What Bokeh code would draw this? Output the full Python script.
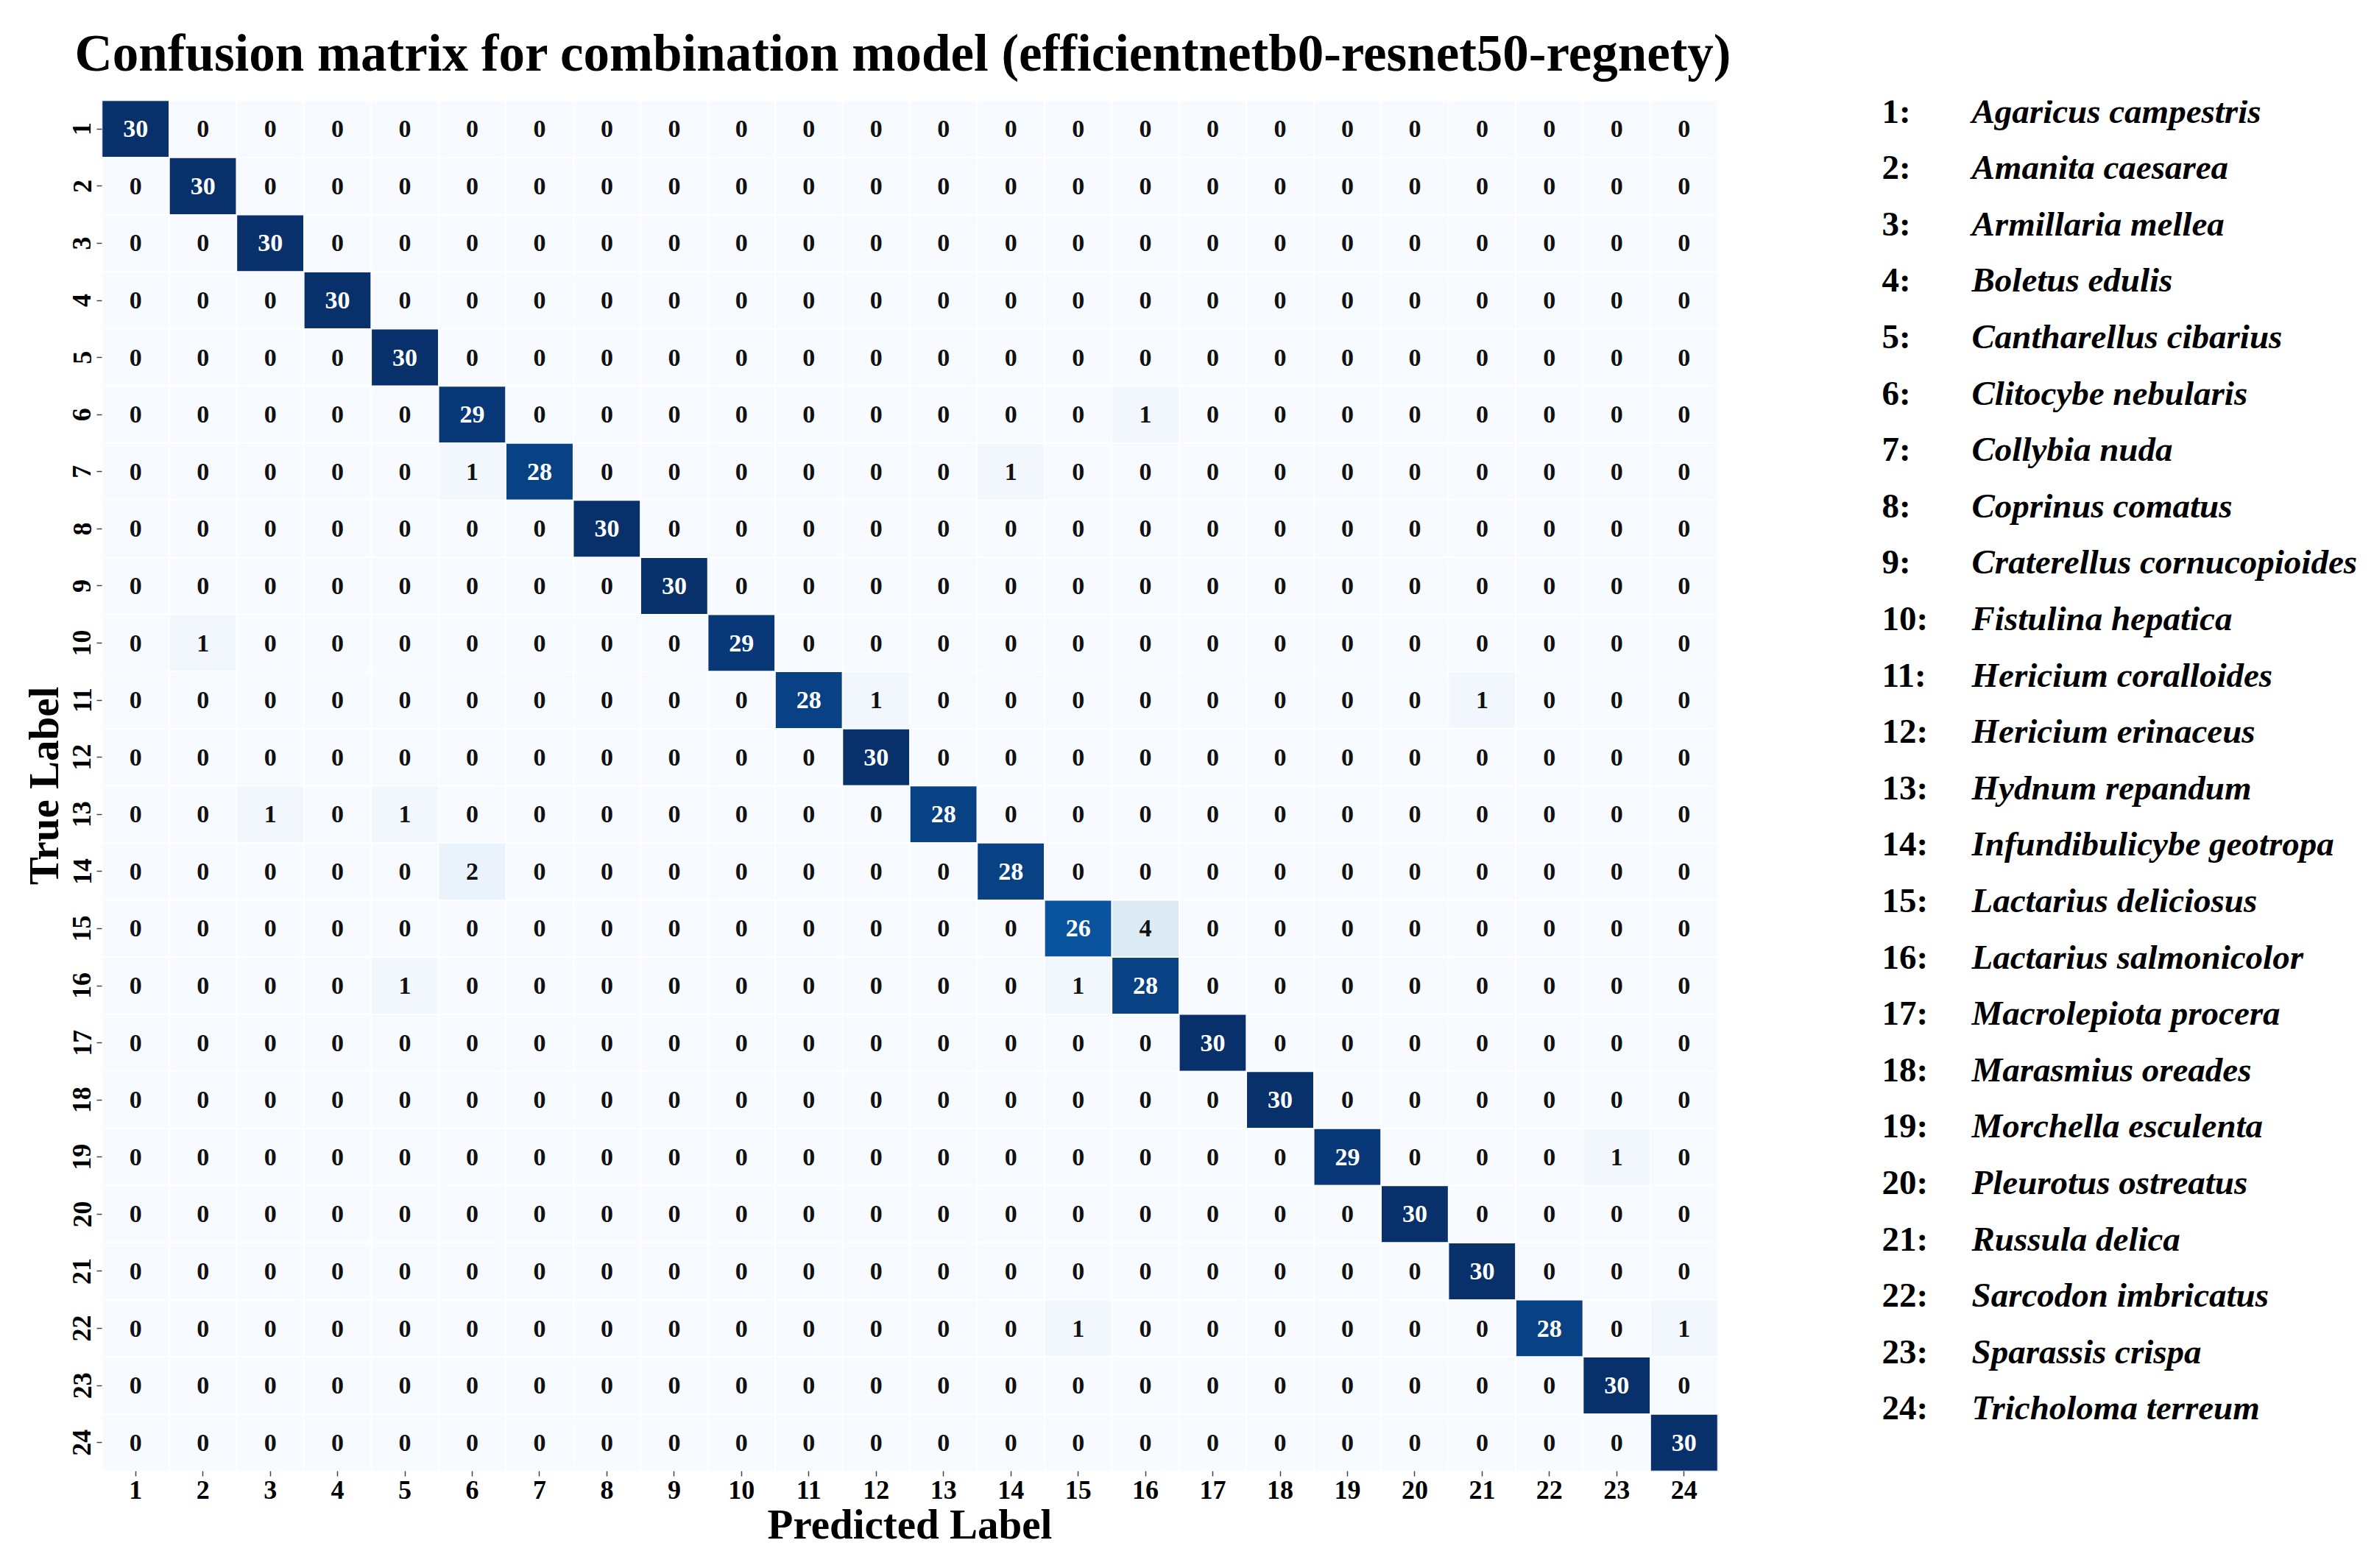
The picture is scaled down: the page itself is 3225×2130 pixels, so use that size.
import numpy as np
from bokeh.plotting import figure
from bokeh.models import ColumnDataSource, LinearColorMapper, Range1d
from bokeh.transform import transform
from bokeh.layouts import row
from bokeh.embed import file_html
from bokeh.resources import INLINE
from bokeh.core.properties import value

# ---------------- data ----------------
class_ids = [str(i) for i in range(1, 25)]
class_names = [
    "Agaricus campestris", "Amanita caesarea", "Armillaria mellea", "Boletus edulis",
    "Cantharellus cibarius", "Clitocybe nebularis", "Collybia nuda", "Coprinus comatus",
    "Craterellus cornucopioides", "Fistulina hepatica", "Hericium coralloides",
    "Hericium erinaceus", "Hydnum repandum", "Infundibulicybe geotropa",
    "Lactarius deliciosus", "Lactarius salmonicolor", "Macrolepiota procera",
    "Marasmius oreades", "Morchella esculenta", "Pleurotus ostreatus", "Russula delica",
    "Sarcodon imbricatus", "Sparassis crispa", "Tricholoma terreum",
]
# rows = true label, columns = predicted label
true_01 = [30,0,0,0,0,0,0,0,0,0,0,0,0,0,0,0,0,0,0,0,0,0,0,0]
true_02 = [0,30,0,0,0,0,0,0,0,0,0,0,0,0,0,0,0,0,0,0,0,0,0,0]
true_03 = [0,0,30,0,0,0,0,0,0,0,0,0,0,0,0,0,0,0,0,0,0,0,0,0]
true_04 = [0,0,0,30,0,0,0,0,0,0,0,0,0,0,0,0,0,0,0,0,0,0,0,0]
true_05 = [0,0,0,0,30,0,0,0,0,0,0,0,0,0,0,0,0,0,0,0,0,0,0,0]
true_06 = [0,0,0,0,0,29,0,0,0,0,0,0,0,0,0,1,0,0,0,0,0,0,0,0]
true_07 = [0,0,0,0,0,1,28,0,0,0,0,0,0,1,0,0,0,0,0,0,0,0,0,0]
true_08 = [0,0,0,0,0,0,0,30,0,0,0,0,0,0,0,0,0,0,0,0,0,0,0,0]
true_09 = [0,0,0,0,0,0,0,0,30,0,0,0,0,0,0,0,0,0,0,0,0,0,0,0]
true_10 = [0,1,0,0,0,0,0,0,0,29,0,0,0,0,0,0,0,0,0,0,0,0,0,0]
true_11 = [0,0,0,0,0,0,0,0,0,0,28,1,0,0,0,0,0,0,0,0,1,0,0,0]
true_12 = [0,0,0,0,0,0,0,0,0,0,0,30,0,0,0,0,0,0,0,0,0,0,0,0]
true_13 = [0,0,1,0,1,0,0,0,0,0,0,0,28,0,0,0,0,0,0,0,0,0,0,0]
true_14 = [0,0,0,0,0,2,0,0,0,0,0,0,0,28,0,0,0,0,0,0,0,0,0,0]
true_15 = [0,0,0,0,0,0,0,0,0,0,0,0,0,0,26,4,0,0,0,0,0,0,0,0]
true_16 = [0,0,0,0,1,0,0,0,0,0,0,0,0,0,1,28,0,0,0,0,0,0,0,0]
true_17 = [0,0,0,0,0,0,0,0,0,0,0,0,0,0,0,0,30,0,0,0,0,0,0,0]
true_18 = [0,0,0,0,0,0,0,0,0,0,0,0,0,0,0,0,0,30,0,0,0,0,0,0]
true_19 = [0,0,0,0,0,0,0,0,0,0,0,0,0,0,0,0,0,0,29,0,0,0,1,0]
true_20 = [0,0,0,0,0,0,0,0,0,0,0,0,0,0,0,0,0,0,0,30,0,0,0,0]
true_21 = [0,0,0,0,0,0,0,0,0,0,0,0,0,0,0,0,0,0,0,0,30,0,0,0]
true_22 = [0,0,0,0,0,0,0,0,0,0,0,0,0,0,1,0,0,0,0,0,0,28,0,1]
true_23 = [0,0,0,0,0,0,0,0,0,0,0,0,0,0,0,0,0,0,0,0,0,0,30,0]
true_24 = [0,0,0,0,0,0,0,0,0,0,0,0,0,0,0,0,0,0,0,0,0,0,0,30]
confusion = [true_01, true_02, true_03, true_04, true_05, true_06, true_07, true_08,
             true_09, true_10, true_11, true_12, true_13, true_14, true_15, true_16,
             true_17, true_18, true_19, true_20, true_21, true_22, true_23, true_24]

title_text = "Confusion matrix for combination model  (efficientnetb0-resnet50-regnety)"

# ---------------- colour map (matplotlib "Blues") ----------------
BLUES9 = ["#f7fbff", "#deebf7", "#c6dbef", "#9ecae1", "#6baed6",
          "#4292c6", "#2171b5", "#08519c", "#08306b"]
rgb = np.array([[int(c[i:i + 2], 16) for i in (1, 3, 5)] for c in BLUES9], dtype=float)
pos = np.linspace(0, 1, len(BLUES9))
t = np.linspace(0, 1, 256)
pal = ["#%02x%02x%02x" % tuple(int(round(np.interp(tt, pos, rgb[:, k]))) for k in range(3)) for tt in t]
mapper = LinearColorMapper(palette=pal, low=0, high=30)

# ---------------- source ----------------
xs, ys, vals, txt, tcol = [], [], [], [], []
for i, r in enumerate(confusion):
    for j, v in enumerate(r):
        xs.append(class_ids[j]); ys.append(class_ids[i]); vals.append(v)
        txt.append(str(v)); tcol.append("white" if v > 15 else "#111111")
src = ColumnDataSource(dict(pred=xs, true=ys, value=vals, label=txt, tcolor=tcol))

FONT = "Liberation Serif"

p = figure(width=2400, height=2116, x_range=class_ids, y_range=list(reversed(class_ids)),
           output_backend="svg", toolbar_location=None,
           min_border_left=138, min_border_right=67, min_border_top=136, min_border_bottom=118)
p.rect(x="pred", y="true", width=1, height=1, source=src,
       fill_color=transform("value", mapper), line_color="white", line_width=1.5)
p.text(x="pred", y="true", text="label", source=src, text_color="tcolor",
       text_font=value(FONT), text_font_style="bold", text_font_size="34px",
       text_align="center", text_baseline="middle")

p.title.text = title_text
p.title.align = "center"
p.title.text_font = FONT
p.title.text_font_style = "bold"
p.title.text_font_size = "71px"
p.title.text_color = "black"
p.title.standoff = 52

for ax in (p.xaxis[0], p.yaxis[0]):
    ax.axis_line_color = None
    ax.major_tick_in = 0
    ax.major_tick_out = 7
    ax.major_tick_line_color = "#444444"
    ax.major_tick_line_width = 1.5
    ax.major_label_text_font = FONT
    ax.major_label_text_font_style = "bold"
    ax.major_label_text_font_size = "36px"
    ax.major_label_text_color = "black"
    ax.axis_label_text_font = FONT
    ax.axis_label_text_font_style = "bold"
    ax.axis_label_text_font_size = "57px"
    ax.axis_label_text_color = "black"
p.xaxis.axis_label = "Predicted Label"
p.yaxis.axis_label = "True Label"
p.xaxis.major_label_standoff = 6
p.xaxis.axis_label_standoff = 0
p.yaxis.major_label_orientation = "vertical"
p.yaxis.major_label_standoff = 8
p.yaxis.axis_label_standoff = 6
p.grid.grid_line_color = None
p.outline_line_color = None

# ---------------- species key on the right ----------------
# the key plot's frame is aligned with the heatmap frame by the row layout
key_idx = list(range(1, 25))
lp = figure(width=805, height=2116, x_range=Range1d(0, 805), y_range=Range1d(25.125, 0.817),
            output_backend="svg", toolbar_location=None, min_border=0)
lp.axis.visible = False
lp.grid.grid_line_color = None
lp.outline_line_color = None
key_src = ColumnDataSource(dict(y=key_idx, num=[f"{i}:" for i in class_ids], name=class_names))
lp.text(x=156, y="y", text="num", source=key_src, text_font=value(FONT), text_font_style="bold",
        text_font_size="47px", text_baseline="middle", text_align="left", text_color="black")
lp.text(x=278, y="y", text="name", source=key_src, text_font=value(FONT), text_font_style="bold italic",
        text_font_size="47px", text_baseline="middle", text_align="left", text_color="black")

layout = row(p, lp)
open("out.html", "w").write(file_html(layout, INLINE))
